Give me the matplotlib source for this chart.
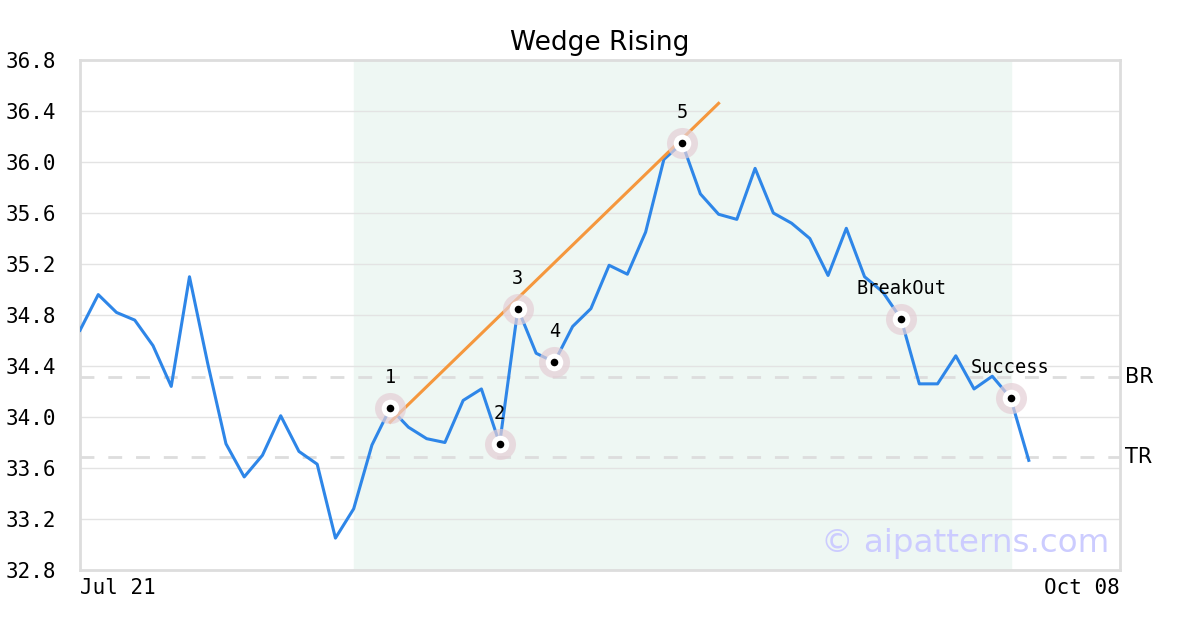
import numpy as np
import matplotlib.pyplot as plt
import matplotlib

matplotlib.rcParams['font.family'] = ['DejaVu Sans']

# trading-day index, first label Jul 21, last Oct 08
prices = [34.68, 34.96, 34.82, 34.76, 34.56, 34.24, 35.10, 34.42, 33.79, 33.53,
          33.70, 34.01, 33.73, 33.63, 33.05, 33.28, 33.78, 34.07, 33.92, 33.83,
          33.80, 34.13, 34.22, 33.79, 34.85, 34.50, 34.43, 34.71, 34.85, 35.19,
          35.12, 35.45, 36.02, 36.15, 35.75, 35.59, 35.55, 35.95, 35.60, 35.52,
          35.40, 35.11, 35.48, 35.10, 34.98, 34.77, 34.26, 34.26, 34.48, 34.22,
          34.32, 34.15, 33.66]
n_days = 57
tick_labels = ['Jul 21', 'Oct 08']

pattern_span = (15, 51)
trend_x = [17, 35]
trend_y = [33.96, 36.46]
br_level = 34.31
tr_level = 33.69

point_idx = [17, 23, 24, 26, 33, 45, 51]
point_names = ['1', '2', '3', '4', '5', 'BreakOut', 'Success']

x = np.arange(len(prices))
y = np.array(prices)

fig = plt.figure(figsize=(12, 6.3), dpi=100)
ax = fig.add_axes([80/1200, 60/630, 1040/1200, 510/630])

ax.axvspan(*pattern_span, color='#eef7f3', zorder=0)
ax.set_axisbelow(True)
ax.yaxis.grid(True, color='#e3e3e3', lw=1)

ax.axhline(br_level, color='#dddddd', lw=2, ls=(0, (5, 5)), zorder=1)
ax.axhline(tr_level, color='#dddddd', lw=2, ls=(0, (5, 5)), zorder=1)

ax.plot(x, y, color='#2e86e8', lw=2.2, zorder=3)
ax.plot(trend_x, trend_y, color='#f5973d', lw=2.2, zorder=4)

px = x[point_idx] ; py = y[point_idx]
ax.scatter(px, py, s=500, color='#e5cfd6', alpha=0.7, lw=0, zorder=5)
ax.scatter(px, py, s=160, color='white', lw=0, zorder=6)
ax.scatter(px, py, s=30, color='black', lw=0, zorder=7)
for xi, yi, name in zip(px, py, point_names):
    ax.annotate(name, (xi, yi), xytext=(0, 22), textcoords='offset points',
                ha='center', va='center', fontsize=13.4, family='DejaVu Sans Mono', zorder=8)

ax.set_xlim(0, n_days)
ax.set_ylim(32.8, 36.8)
ax.set_yticks(np.arange(32.8, 36.81, 0.4))
ax.set_yticklabels(['%.1f' % v for v in np.arange(32.8, 36.81, 0.4)])
ax.set_xticks([0, n_days])
ax.set_xticklabels(tick_labels)
lbls = ax.get_xticklabels()
lbls[0].set_ha('left') ; lbls[1].set_ha('right')
ax.tick_params(length=0, labelsize=15)
ax.tick_params(axis='y', pad=17)
ax.tick_params(axis='x', pad=6)
for t in ax.get_xticklabels() + ax.get_yticklabels():
    t.set_family('DejaVu Sans Mono')

for s in ax.spines.values():
    s.set_color('#dddddd') ; s.set_linewidth(2)

ax.text(n_days + 0.3, br_level, 'BR', fontsize=15, va='center', ha='left')
ax.text(n_days + 0.3, tr_level, 'TR', fontsize=15, va='center', ha='left')

ax.text(0.99, 0.052, '\u00a9 aipatterns.com', transform=ax.transAxes, ha='right', va='center',
        fontsize=23.4, color='#ccccff', zorder=9)

ax.set_title('Wedge Rising', fontsize=19, pad=7)

fig.savefig('out.png', dpi=100)
